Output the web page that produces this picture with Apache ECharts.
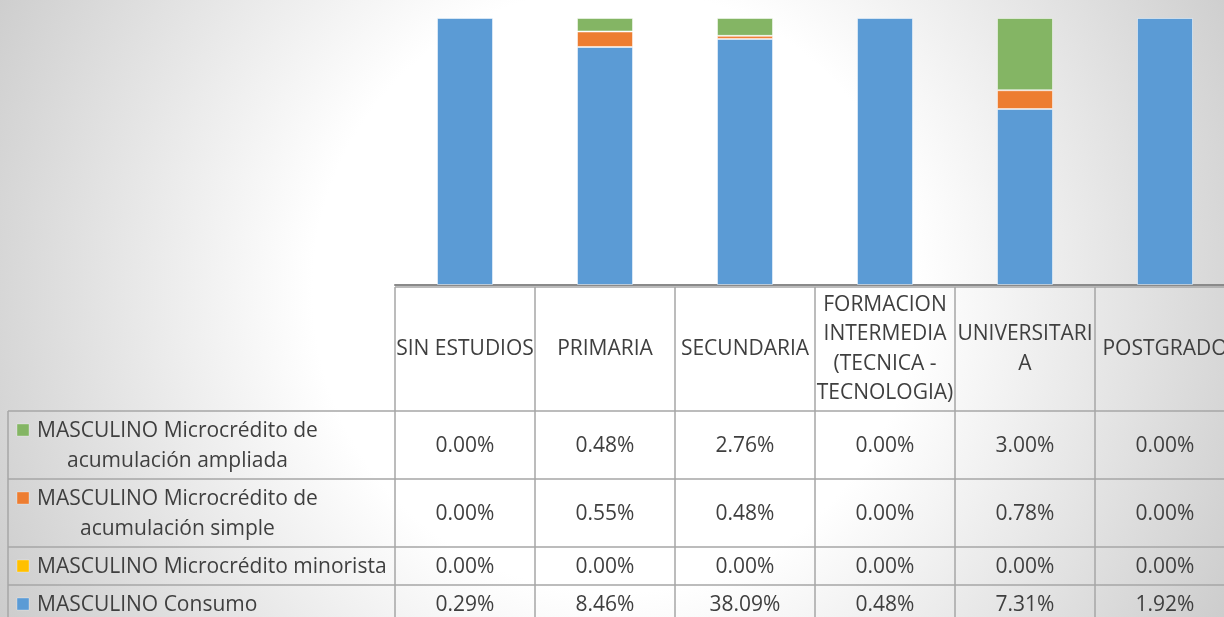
<!DOCTYPE html>
<html>
<head>
<meta charset="utf-8">
<script src="https://cdn.jsdelivr.net/npm/echarts@6/dist/echarts.min.js"></script>
<style>
html,body{margin:0;padding:0;background:#fff;overflow:hidden}
#c{width:1224px;height:617px}
</style>
</head>
<body>
<div id="c"></div>
<script>
// ---------- DATA ----------
const categories = ['SIN ESTUDIOS', 'PRIMARIA', 'SECUNDARIA', 'FORMACION INTERMEDIA (TECNICA - TECNOLOGIA)', 'UNIVERSITARIA', 'POSTGRADO'];
const headerLabels = ['SIN ESTUDIOS', 'PRIMARIA', 'SECUNDARIA', 'FORMACION\nINTERMEDIA\n(TECNICA -\nTECNOLOGIA)', 'UNIVERSITARI\nA', 'POSTGRADO'];
const seriesNames = [
  'MASCULINO Consumo',
  'MASCULINO Microcrédito minorista',
  'MASCULINO Microcrédito de acumulación simple',
  'MASCULINO Microcrédito de acumulación ampliada'
];
const consumo   = [0.29, 8.46, 38.09, 0.48, 7.31, 1.92];
const minorista = [0.00, 0.00, 0.00, 0.00, 0.00, 0.00];
const simple    = [0.00, 0.55, 0.48, 0.00, 0.78, 0.00];
const ampliada  = [0.00, 0.48, 2.76, 0.00, 3.00, 0.00];

// ---------- STYLE / LAYOUT ----------
const seriesValues = [consumo, minorista, simple, ampliada];
const colors = ['#5B9BD5', '#FFC000', '#ED7D31', '#84B564'];
const FONT = '"Open Sans"';
const TEXT = '#3f3f3f';
const LINE = '#a6a6a6';
const ctx = document.createElement('canvas').getContext('2d');
function tw(s, size) { ctx.font = size + 'px ' + FONT; return ctx.measureText(s).width; }
const fs = Math.round(24 * 350 / tw('MASCULINO Microcrédito minorista', 24) * 10) / 10;
const lineH = 29.3;

const gridLeft = 395, gridTop = 18, gridWidth = 840, gridHeight = 267;
const headerTop = 287, headerBottom = 411;
const rowHeights = [68, 68, 38, 38];
const tableLeft = 8, legendTextLeft = 37;

// 100% stacked shares derived from the values
const totals = categories.map((_, i) => seriesValues.reduce((s, arr) => s + arr[i], 0));
const shares = seriesValues.map(arr => arr.map((v, i) => (v > 0 && totals[i] > 0) ? v / totals[i] * 100 : null));

const chart = echarts.init(document.getElementById('c'), null, { renderer: 'canvas' });

chart.setOption({
  animation: false,
  grid: { left: gridLeft, top: gridTop, width: gridWidth, height: gridHeight, containLabel: false, outerBoundsMode: 'none' },
  xAxis: {
    type: 'category',
    data: categories,
    boundaryGap: true,
    axisLine: { show: true, lineStyle: { color: '#8a8a8a', width: 2 } },
    axisTick: { show: false },
    axisLabel: {
      interval: 0,
      hideOverlap: false,
      margin: (headerTop + headerBottom) / 2 - (gridTop + gridHeight),
      verticalAlign: 'middle',
      color: TEXT,
      fontFamily: FONT,
      fontSize: fs,
      lineHeight: lineH,
      formatter: (v, i) => headerLabels[i]
    },
    splitLine: { show: false }
  },
  yAxis: { type: 'value', min: 0, max: 100, show: false, splitLine: { show: false } },
  series: seriesNames.map((name, k) => ({
    name,
    type: 'bar',
    stack: 'total',
    barWidth: '40%',
    data: shares[k],
    itemStyle: { color: colors[k], borderColor: 'rgba(255,255,255,0.5)', borderWidth: 1 },
    emphasis: { disabled: true }
  }))
});

// ---------- DATA TABLE ----------
const colX = categories.map((_, i) => chart.convertToPixel({ xAxisIndex: 0 }, i));
const band = colX.length > 1 ? colX[1] - colX[0] : gridWidth;
const bounds = colX.map(x => x - band / 2).concat([colX[colX.length - 1] + band / 2]);
const tableRight = bounds[bounds.length - 1];

const rowTops = [];
let yy = headerBottom;
rowHeights.forEach(h => { rowTops.push(yy); yy += h; });
const tableBottom = yy;

const elements = [];
// background
elements.push({
  type: 'rect', silent: true, z: -100,
  shape: { x: 0, y: 0, width: 1224, height: 617 },
  style: {
    fill: new echarts.graphic.RadialGradient(615, 290, 720, [
      { offset: 0, color: '#ffffff' },
      { offset: 0.42, color: '#ffffff' },
      { offset: 1, color: '#c9c9c9' }
    ], true)
  }
});

function hline(x1, x2, y) {
  elements.push({ type: 'line', silent: true, z: 5, shape: { x1, y1: y, x2, y2: y }, style: { stroke: LINE, lineWidth: 1.5 } });
}
function vline(x, y1, y2) {
  elements.push({ type: 'line', silent: true, z: 5, shape: { x1: x, y1, x2: x, y2 }, style: { stroke: LINE, lineWidth: 1.5 } });
}
hline(bounds[0], tableRight, headerTop);
rowTops.forEach(t => hline(tableLeft, tableRight, t));
hline(tableLeft, tableRight, tableBottom);
vline(tableLeft, headerBottom, tableBottom);
bounds.forEach(x => vline(x, headerTop, tableBottom));

// rows: top to bottom = reversed series order
const rowOrder = seriesNames.map((_, k) => k).reverse();
const maxLegendW = bounds[0] - legendTextLeft - 2;
function wrap(str) {
  const words = str.split(' ');
  const lines = [];
  let cur = '';
  words.forEach(w => {
    const t = cur ? cur + ' ' + w : w;
    if (cur && tw(t, fs) > maxLegendW) { lines.push(cur); cur = w; } else { cur = t; }
  });
  if (cur) lines.push(cur);
  return lines;
}
const fontStr = fs + 'px ' + FONT;
rowOrder.forEach((k, r) => {
  const cy = rowTops[r] + rowHeights[r] / 2;
  const lines = wrap(seriesNames[k]);
  const w = Math.max.apply(null, lines.map(l => tw(l, fs)));
  const firstY = cy - (lines.length - 1) * lineH / 2;
  elements.push({
    type: 'rect', silent: true, z: 6,
    shape: { x: 17, y: Math.round(firstY) - 6, width: 12, height: 12 },
    style: { fill: colors[k], stroke: 'rgba(255,255,255,0.3)', lineWidth: 1 }
  });
  elements.push({
    type: 'text', silent: true, z: 6,
    x: legendTextLeft + w / 2, y: cy + 1,
    style: { text: lines.join('\n'), font: fontStr, fill: TEXT, align: 'center', verticalAlign: 'middle', lineHeight: lineH }
  });
  seriesValues[k].forEach((v, i) => {
    elements.push({
      type: 'text', silent: true, z: 6,
      x: colX[i], y: cy + 1,
      style: { text: v.toFixed(2) + '%', font: fontStr, fill: TEXT, align: 'center', verticalAlign: 'middle' }
    });
  });
});

chart.setOption({ graphic: { elements } });
</script>
</body>
</html>
